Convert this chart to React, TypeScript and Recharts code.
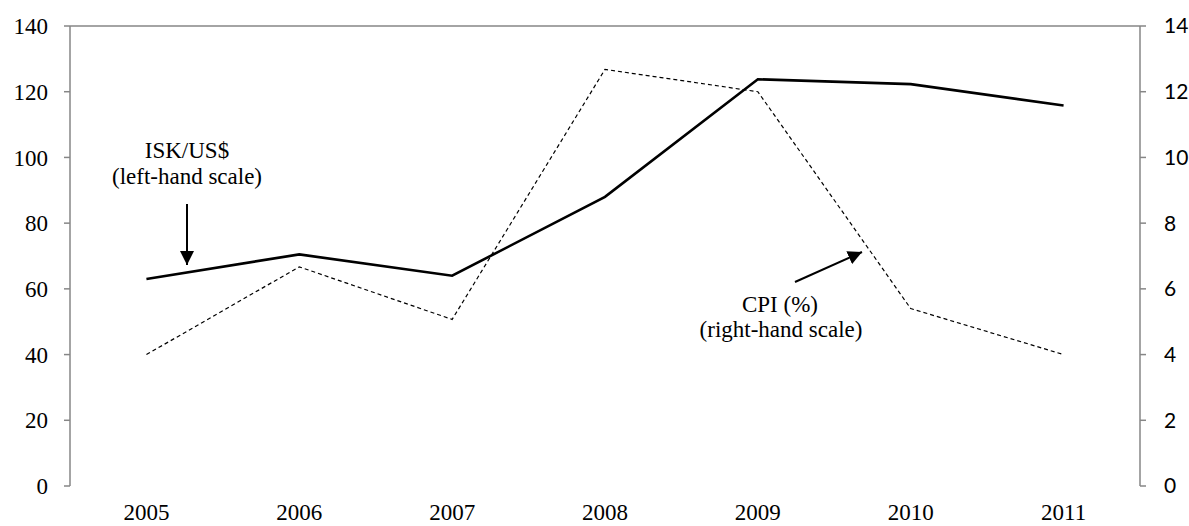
import { LineChart, Line, XAxis, YAxis, ReferenceLine } from "recharts";

const years = ["2005", "2006", "2007", "2008", "2009", "2010", "2011"];
const iskPerUsd = [63, 70.5, 64, 88, 123.8, 122.3, 115.8];
const cpiPct = [4.0, 6.67, 5.07, 12.68, 12.0, 5.4, 4.0];
const leftTicks = [0, 20, 40, 60, 80, 100, 120, 140];
const rightTicks = [0, 2, 4, 6, 8, 10, 12, 14];

const data = years.map((year, i) => ({ x: i, year, isk: iskPerUsd[i], cpi: cpiPct[i] }));
const labelTicks = years.map((_, i) => i);
const boundaryTicks = [...years.map((_, i) => i - 0.5), years.length - 0.5];

const serif = "'Liberation Serif', 'Times New Roman', serif";
const sans = "Lato, 'Open Sans', sans-serif";
const axisGrey = "#868686";

const App = () => {
  return (
    <div style={{ position: "absolute", left: 0, top: 0, width: 1189, height: 526, background: "#fff" }}>
      <LineChart width={1189} height={526} data={data} margin={{ top: 26, right: 0, bottom: 0, left: 0 }}>
        <XAxis
          xAxisId="bounds"
          dataKey="x"
          type="number"
          domain={[-0.5, years.length - 0.5]}
          ticks={boundaryTicks}
          tickFormatter={() => ""}
          tickSize={5}
          height={0}
          stroke={axisGrey}
          strokeWidth={1.5}
        />
        <XAxis
          xAxisId="labels"
          dataKey="x"
          type="number"
          domain={[-0.5, years.length - 0.5]}
          ticks={labelTicks}
          tickFormatter={(i: number) => years[i]}
          axisLine={false}
          tickLine={false}
          tickSize={6}
          tickMargin={12}
          height={40}
          tick={{ fill: "#000", fontSize: 23, fontFamily: serif }}
        />
        <YAxis
          yAxisId="left"
          domain={[0, 140]}
          ticks={leftTicks}
          width={70}
          tickSize={6}
          tickMargin={16}
          stroke={axisGrey}
          strokeWidth={1.5}
          tick={{ fill: "#000", fontSize: 23, fontFamily: serif }}
        />
        <YAxis
          yAxisId="right"
          orientation="right"
          domain={[0, 14]}
          ticks={rightTicks}
          width={49}
          tickSize={6}
          tickMargin={18}
          stroke={axisGrey}
          strokeWidth={1.5}
          tick={{ fill: "#000", fontSize: 21, fontFamily: sans, textAnchor: "start" }}
        />
        <ReferenceLine yAxisId="left" xAxisId="bounds" y={140} stroke={axisGrey} strokeWidth={1.5} />
        <Line
          xAxisId="bounds"
          yAxisId="right"
          dataKey="cpi"
          stroke="#000"
          strokeWidth={1.2}
          strokeDasharray="4 3"
          dot={false}
          isAnimationActive={false}
        />
        <Line
          xAxisId="bounds"
          yAxisId="left"
          dataKey="isk"
          stroke="#000"
          strokeWidth={2.6}
          dot={false}
          isAnimationActive={false}
        />
      </LineChart>
      <svg width={1189} height={526} style={{ position: "absolute", left: 0, top: 0, pointerEvents: "none" }}>
        <defs>
          <marker id="head" viewBox="0 0 10 10" refX="10" refY="5" markerWidth="7" markerHeight="7" markerUnits="strokeWidth" orient="auto">
            <path d="M0,0 L10,5 L0,10 z" fill="#000" />
          </marker>
        </defs>
        <g fontFamily={serif} fontSize={23} fill="#000" textAnchor="middle">
          <text x={187} y={158}>ISK/US$</text>
          <text x={187} y={184}>(left-hand scale)</text>
          <text x={780} y={312}>CPI (%)</text>
          <text x={781} y={337}>(right-hand scale)</text>
        </g>
        <line x1={187} y1={204} x2={187} y2={265} stroke="#000" strokeWidth={2} markerEnd="url(#head)" />
        <line x1={795} y1={282} x2={862} y2={252} stroke="#000" strokeWidth={2} markerEnd="url(#head)" />
      </svg>
    </div>
  );
};

export default App;
